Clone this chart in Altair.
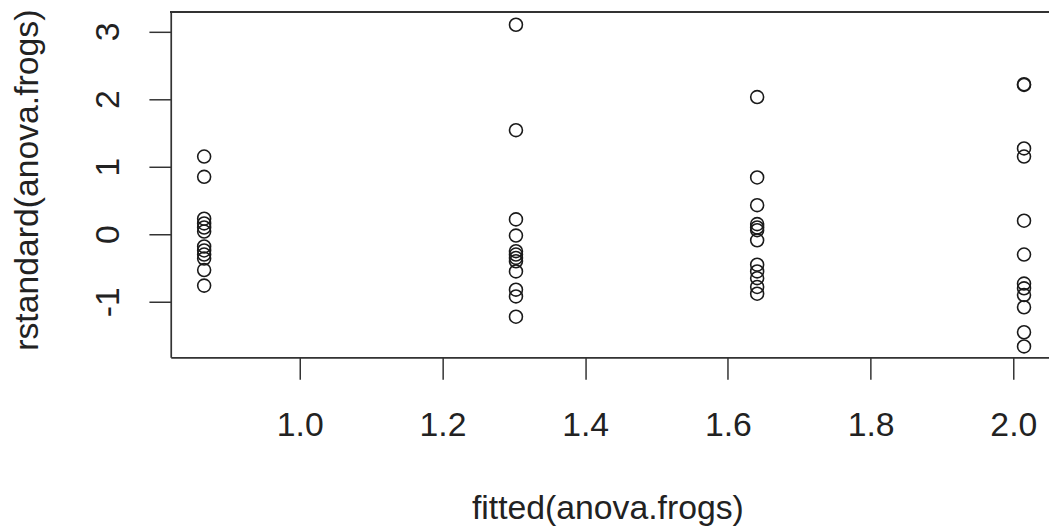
import altair as alt
import pandas as pd

# fitted group means (x) and standardized residuals (y)
fitted_levels = [0.866, 1.303, 1.641, 2.015]
resid_g1 = [1.15, 0.85, 0.23, 0.16, 0.10, 0.04, -0.18, -0.24, -0.30, -0.36, -0.53, -0.76]
resid_g2 = [3.10, 1.54, 0.22, -0.02, -0.25, -0.30, -0.35, -0.40, -0.55, -0.82, -0.92, -1.22]
resid_g3 = [2.03, 0.84, 0.43, 0.15, 0.10, 0.06, -0.09, -0.45, -0.55, -0.65, -0.78, -0.88]
resid_g4 = [2.22, 2.21, 1.27, 1.15, 0.20, -0.30, -0.73, -0.80, -0.90, -1.08, -1.45, -1.66]

x_ticks = [1.0, 1.2, 1.4, 1.6, 1.8, 2.0]
y_ticks = [-1, 0, 1, 2, 3]

rows = []
for fx, res in zip(fitted_levels, [resid_g1, resid_g2, resid_g3, resid_g4]):
    for r in res:
        rows.append({"fitted": fx, "rstandard": r})
df = pd.DataFrame(rows)

W, H = 885, 348
FONT = "Liberation Sans"
INK = "#222222"
LINE = "#333333"

points = alt.Chart(df).mark_point(
    shape="circle", filled=False, size=170, stroke="#1a1a1a", strokeWidth=1.6, opacity=1
).encode(
    x=alt.X(
        "fitted:Q",
        scale=alt.Scale(domain=[0.8192, 2.050], nice=False, zero=False),
        axis=alt.Axis(
            values=x_ticks,
            labelExpr="format(datum.value, '.1f')",
            tickSize=22, tickWidth=1.5, tickColor=LINE,
            domainColor=LINE, domainWidth=1.7,
            labelFont=FONT, labelFontSize=34, labelColor=INK,
            labelPadding=57, labelBaseline="alphabetic", labelFlush=False,
            grid=False,
            title="fitted(anova.frogs)",
            titleFont=FONT, titleFontSize=34, titleFontWeight="normal", titleColor=INK,
            titleX=440, titleY=162, titleBaseline="alphabetic", titleAlign="center",
        ),
    ),
    y=alt.Y(
        "rstandard:Q",
        scale=alt.Scale(domain=[-1.821, 3.289], nice=False, zero=False),
        axis=alt.Axis(
            values=y_ticks,
            labelExpr="'' + datum.value",
            labelAngle=270, labelAlign="center", labelBaseline="alphabetic",
            tickSize=22, tickWidth=1.5, tickColor=LINE,
            domainColor=LINE, domainWidth=1.7,
            labelFont=FONT, labelFontSize=34, labelColor=INK,
            labelPadding=31, labelFlush=False,
            grid=False,
            title="rstandard(anova.frogs)",
            titleFont=FONT, titleFontSize=34, titleFontWeight="normal", titleColor=INK,
            titleAngle=270, titleX=-134, titleY=169,
            titleBaseline="alphabetic", titleAlign="center",
        ),
    ),
)

top_line = alt.Chart(df).mark_rule(color=LINE, strokeWidth=1.7).encode(
    x=alt.value(0), x2=alt.value(W), y=alt.value(0)
)

chart = alt.layer(points, top_line).properties(
    width=W, height=H,
    autosize=alt.AutoSizeParams(type="none"),
    padding={"left": 164, "top": 2, "right": 0, "bottom": 171},
).configure_view(stroke=None).configure(background="white")

chart.save("out.html", embed_options={"renderer": "svg", "actions": False})
